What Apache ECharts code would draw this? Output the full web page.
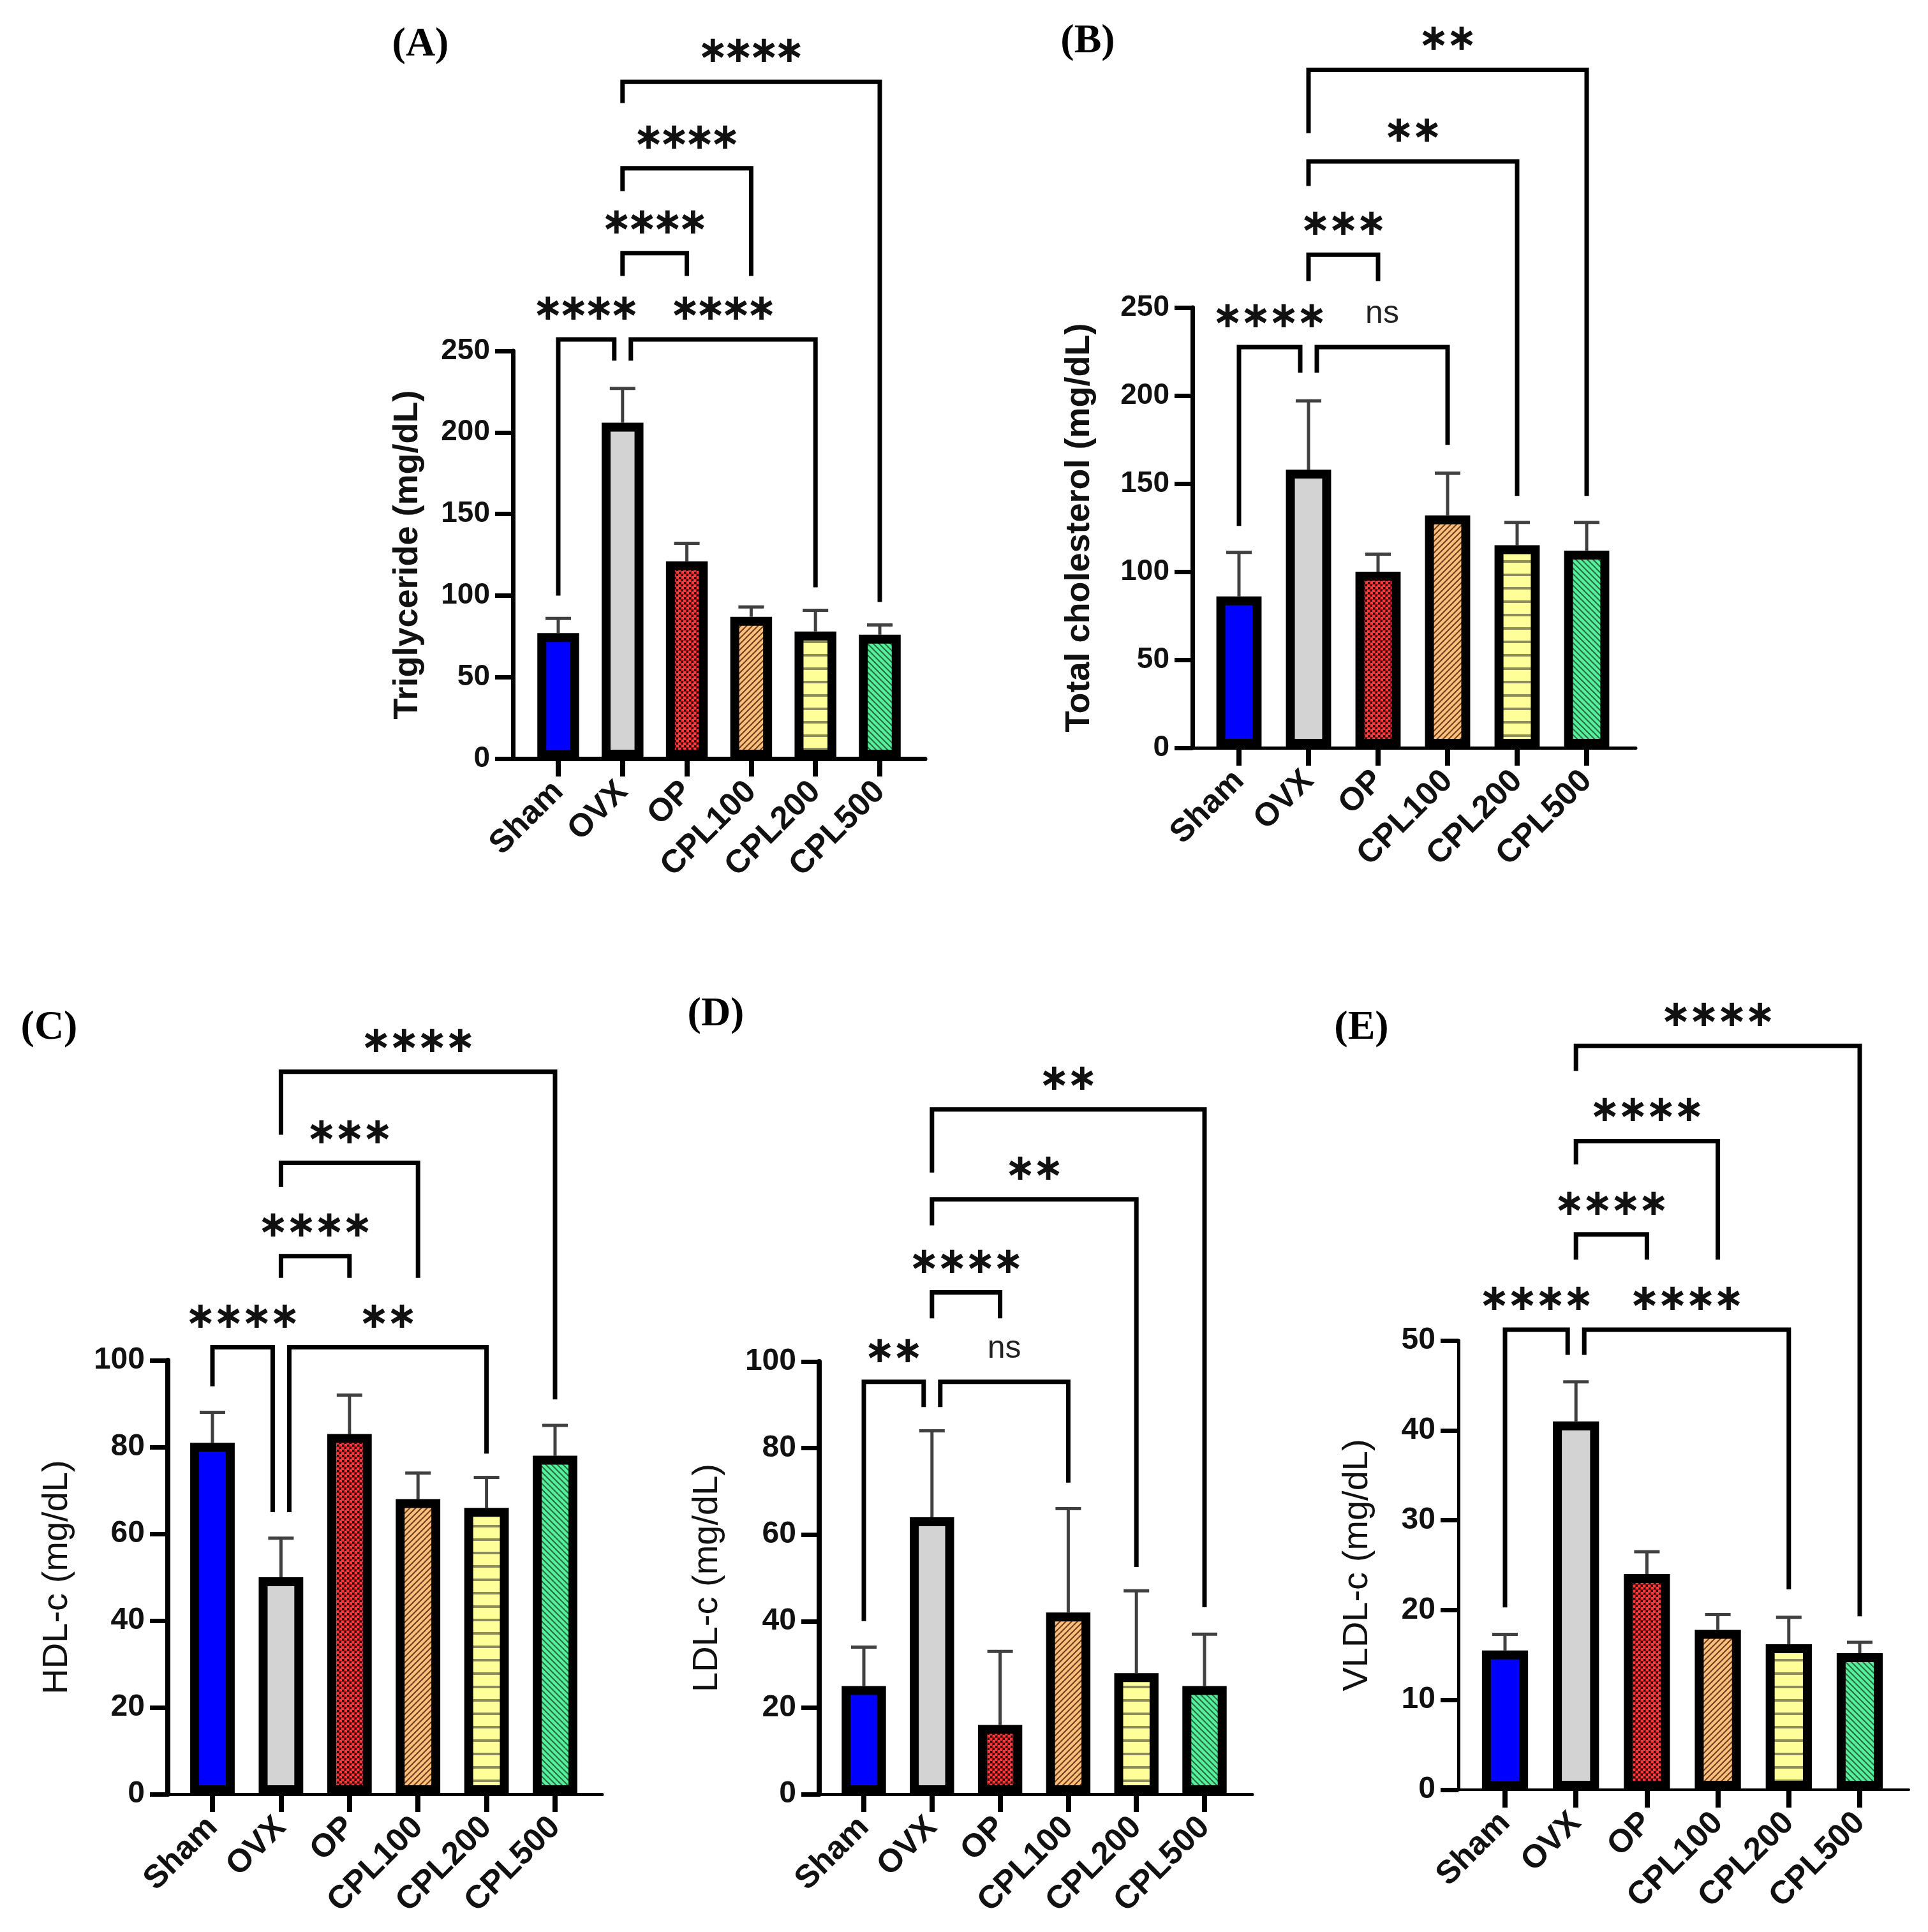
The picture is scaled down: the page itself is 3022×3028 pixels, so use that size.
<!DOCTYPE html>
<html>
<head>
<meta charset="utf-8">
<title>Serum lipids</title>
<script src="https://cdn.jsdelivr.net/npm/echarts@6/dist/echarts.min.js"></script>
<style>
html, body { margin: 0; padding: 0; background: #fff; }
#chart { width: 3022px; height: 3028px; }
</style>
</head>
<body>
<div id="chart"></div>
<script>
var groups = ['Sham', 'OVX', 'OP', 'CPL100', 'CPL200', 'CPL500'];

// mean and upper SD (mg/dL)
var tgMean = [77, 206, 121, 87, 78, 76];
var tgSd = [9, 21, 11, 6, 13, 6];
var tcMean = [86, 158, 100, 132, 115, 112];
var tcSd = [25, 39, 10, 24, 13, 16];
var hdlMean = [81, 50, 83, 68, 66, 78];
var hdlSd = [7, 9, 9, 6, 7, 7];
var ldlMean = [25, 64, 16, 42, 28, 25];
var ldlSd = [9, 20, 17, 24, 19, 12];
var vldlMean = [15.5, 41, 24, 17.8, 16.2, 15.2];
var vldlSd = [1.8, 4.4, 2.5, 1.7, 3, 1.2];

// significance: [from group, to group, bracket level, left leg end, right leg end, label]
var tgSig = [
	[0, 1, 257, 100, 244, '****'],
	[1, 4, 257, 244, 105, '****'],
	[1, 2, 310, 296, 296, '****'],
	[1, 3, 362, 348, 296, '****'],
	[1, 5, 415, 402, 96, '****']
];
var tcSig = [
	[0, 1, 227.5, 126, 213, '****'],
	[1, 3, 227.5, 213, 172, 'ns'],
	[1, 2, 280, 265, 265, '***'],
	[1, 4, 333, 319, 143, '**'],
	[1, 5, 385, 349, 143, '**']
];
var hdlSig = [
	[0, 1, 103, 94, 65, '****'],
	[1, 4, 103, 65, 78.5, '**'],
	[1, 2, 124, 119, 119, '****'],
	[1, 3, 145.5, 140, 119, '***'],
	[1, 5, 166.5, 152, 91, '****']
];
var ldlSig = [
	[0, 1, 95.3, 40, 89.5, '**'],
	[1, 3, 95.3, 89.5, 72, 'ns'],
	[1, 2, 116, 110, 110, '****'],
	[1, 4, 137.5, 131.5, 52.5, '**'],
	[1, 5, 158.3, 143.7, 43.2, '**']
];
var vldlSig = [
	[0, 1, 51.2, 20.3, 48.4, '****'],
	[1, 4, 51.2, 48.4, 22.3, '****'],
	[1, 2, 61.8, 59, 59, '****'],
	[1, 3, 72.2, 69.6, 59, '****'],
	[1, 5, 82.8, 80, 19.3, '****']
];

// fill patterns
function makePattern(kind) {
	var c = document.createElement('canvas');
	var g;
	if (kind == 'check') {
		c.width = 8; c.height = 8;
		g = c.getContext('2d');
		g.fillStyle = '#f43a3a'; g.fillRect(0, 0, 8, 8);
		g.fillStyle = '#9c1010'; g.fillRect(0, 3, 8, 1); g.fillRect(3, 0, 1, 8);
		g.fillStyle = '#3a0000'; g.fillRect(0, 0, 3, 3); g.fillRect(4, 4, 3, 3);
	} else if (kind == 'hline') {
		c.width = 4; c.height = 21;
		g = c.getContext('2d');
		g.fillStyle = '#ffff99'; g.fillRect(0, 0, 4, 21);
		g.fillStyle = '#8e8e5c'; g.fillRect(0, 17, 4, 4);
	} else {
		c.width = 9; c.height = 9;
		g = c.getContext('2d');
		g.fillStyle = kind == 'up' ? '#ffbf7c' : '#55f09a';
		g.fillRect(0, 0, 9, 9);
		g.strokeStyle = kind == 'up' ? '#6a4020' : '#2a6a45';
		g.lineWidth = 2;
		g.beginPath();
		if (kind == 'up') {
			g.moveTo(-1, 10); g.lineTo(10, -1);
			g.moveTo(-1, 1); g.lineTo(1, -1);
			g.moveTo(8, 10); g.lineTo(10, 8);
		} else {
			g.moveTo(-1, -1); g.lineTo(10, 10);
			g.moveTo(-1, 8); g.lineTo(1, 10);
			g.moveTo(8, -1); g.lineTo(10, 1);
		}
		g.stroke();
	}
	return { image: c, repeat: 'repeat' };
}

var fills = ['#0000ff', '#d3d3d3', makePattern('check'), makePattern('up'), makePattern('hline'), makePattern('down')];

var panels = [
	{ tag: '(A)', tagAt: [659, 70], name: 'Triglyceride (mg/dL)', mean: tgMean, sd: tgSd, sig: tgSig, max: 250, step: 50,
		frame: [804, 550, 1450, 1189], cat: [824.6, 1429.4], gap: 138, bold: true, yw: 7, xw: 7, tick: 46, star: 40 },
	{ tag: '(B)', tagAt: [1705, 65], name: 'Total cholesterol (mg/dL)', mean: tcMean, sd: tcSd, sig: tcSig, max: 250, step: 50,
		frame: [1869, 482, 2564, 1172], cat: [1887.5, 2541.5], gap: 150, bold: true, yw: 7, xw: 5, tick: 46, star: 44 },
	{ tag: '(C)', tagAt: [77, 1611], name: 'HDL-c (mg/dL)', mean: hdlMean, sd: hdlSd, sig: hdlSig, max: 100, step: 20,
		frame: [263, 2132, 944, 2812], cat: [279.3, 923.7], gap: 145, bold: false, yw: 8, xw: 5, tick: 48, star: 44 },
	{ tag: '(D)', tagAt: [1122, 1590], name: 'LDL-c (mg/dL)', mean: ldlMean, sd: ldlSd, sig: ldlSig, max: 100, step: 20,
		frame: [1284, 2134, 1963, 2812], cat: [1300.6, 1941.4], gap: 147, bold: false, yw: 8, xw: 5, tick: 48, star: 44 },
	{ tag: '(E)', tagAt: [2134, 1611], name: 'VLDL-c (mg/dL)', mean: vldlMean, sd: vldlSd, sig: vldlSig, max: 50, step: 10,
		frame: [2286, 2101, 2992, 2805], cat: [2303.4, 2970.6], gap: 130, bold: false, yw: 5, xw: 4, tick: 48, star: 44 }
];

function errorItem(params, api) {
	var x = api.value(0);
	var m = api.value(1);
	var s = api.value(2);
	var base = api.coord([x, m]);
	var top = api.coord([x, m + s]);
	var st = { stroke: '#404040', lineWidth: 5 };
	return {
		type: 'group',
		children: [
			{ type: 'line', shape: { x1: base[0], y1: base[1], x2: top[0], y2: top[1] }, style: st },
			{ type: 'line', shape: { x1: top[0] - 20, y1: top[1], x2: top[0] + 20, y2: top[1] }, style: st }
		]
	};
}

function bracketItem(sig, spacing) {
	return function (params, api) {
		var b = sig[params.dataIndex];
		var from = b[0], to = b[1], level = b[2];
		var shiftL = 0, shiftR = 0;
		// two brackets landing on one bar at the same height are pulled apart
		sig.forEach(function (o, k) {
			if (k == params.dataIndex || o[2] != level) return;
			if (o[0] == from || o[1] == from) shiftL = 13;
			if (o[0] == to || o[1] == to) shiftR = -13;
		});
		var pL = api.coord([from, level]);
		var pR = api.coord([to, level]);
		var xL = pL[0] + shiftL;
		var xR = pR[0] + shiftR;
		var y = pL[1];
		var yLb = api.coord([from, b[3]])[1];
		var yRb = api.coord([to, b[4]])[1];
		var kids = [{
			type: 'polyline',
			shape: { points: [[xL, yLb], [xL, y], [xR, y], [xR, yRb]] },
			style: { stroke: '#000', lineWidth: 7, fill: null, lineJoin: 'miter', lineCap: 'butt' }
		}];
		var mid = (xL + xR) / 2;
		if (b[5] == 'ns') {
			kids.push({
				type: 'text',
				style: { text: 'ns', x: mid, y: y - 52, font: '50px "Liberation Sans"', fill: '#222',
					align: 'center', verticalAlign: 'middle', textAlign: 'center', textVerticalAlign: 'middle' }
			});
		} else {
			var n = b[5].length;
			for (var i = 0; i < n; i++) {
				kids.push({
					type: 'text',
					style: { text: '\u2217', x: mid + (i - (n - 1) / 2) * spacing, y: y - 46, font: 'bold 58px "DejaVu Sans"', fill: '#111',
						align: 'center', verticalAlign: 'middle', textAlign: 'center', textVerticalAlign: 'middle' }
				});
			}
		}
		return { type: 'group', children: kids };
	};
}

var grid = [], xAxis = [], yAxis = [], series = [], graphic = [];

panels.forEach(function (p, k) {
	var f = p.frame;
	var fi = 2 * k, di = 2 * k + 1;
	grid.push({ left: f[0], top: f[1], width: f[2] - f[0], height: f[3] - f[1] });
	grid.push({ left: p.cat[0], top: f[1], width: p.cat[1] - p.cat[0], height: f[3] - f[1] });

	xAxis.push({
		gridIndex: fi, type: 'value', min: 0, max: 1,
		axisLine: { show: true, onZero: false, lineStyle: { color: '#000', width: p.xw } },
		axisTick: { show: false }, axisLabel: { show: false }, splitLine: { show: false }
	});
	xAxis.push({
		gridIndex: di, type: 'category', data: groups,
		axisLine: { show: false },
		axisTick: { show: true, alignWithLabel: true, length: 28, lineStyle: { color: '#000', width: 8 } },
		axisLabel: { rotate: 45, margin: 44, color: '#111', fontSize: 51, fontWeight: 'bold', fontFamily: 'Liberation Sans' }
	});

	yAxis.push({
		gridIndex: fi, type: 'value', min: 0, max: p.max, interval: p.step,
		axisLine: { show: true, lineStyle: { color: '#000', width: p.yw } },
		axisTick: { show: true, length: 28, lineStyle: { color: '#000', width: 7 } },
		axisLabel: { margin: 36, color: '#111', fontSize: p.tick, fontWeight: 'bold', fontFamily: 'Liberation Sans' },
		splitLine: { show: false },
		name: p.name, nameLocation: 'middle', nameRotate: 90, nameGap: p.gap,
		nameTextStyle: { color: '#111', fontSize: p.bold ? 54 : 56, fontWeight: p.bold ? 'bold' : 'normal', fontFamily: 'Liberation Sans' }
	});
	yAxis.push({ gridIndex: di, type: 'value', min: 0, max: p.max, show: false });

	series.push({
		type: 'custom', xAxisIndex: di, yAxisIndex: di, z: 2, clip: false,
		encode: { x: 0, y: 1 },
		data: p.mean.map(function (v, i) { return [i, v, p.sd[i]]; }),
		renderItem: errorItem
	});
	series.push({
		type: 'bar', xAxisIndex: di, yAxisIndex: di, z: 3, barWidth: '65%',
		data: p.mean.map(function (v, i) {
			return { value: v, itemStyle: { color: fills[i], borderColor: '#000', borderWidth: 14 } };
		})
	});
	series.push({
		type: 'custom', xAxisIndex: di, yAxisIndex: di, z: 4, clip: false,
		encode: { x: 0, y: 1 },
		data: p.sig.map(function (b) { return [b[0], b[2]]; }),
		renderItem: bracketItem(p.sig, p.star)
	});

	graphic.push({
		type: 'text', x: p.tagAt[0], y: p.tagAt[1],
		style: { text: p.tag, font: 'bold 64px "Liberation Serif"', fill: '#000',
			align: 'center', verticalAlign: 'middle', textAlign: 'center', textVerticalAlign: 'middle' }
	});
});

var chart = echarts.init(document.getElementById('chart'));
chart.setOption({
	backgroundColor: '#fff',
	animation: false,
	grid: grid,
	xAxis: xAxis,
	yAxis: yAxis,
	series: series,
	graphic: graphic
});
</script>
</body>
</html>
